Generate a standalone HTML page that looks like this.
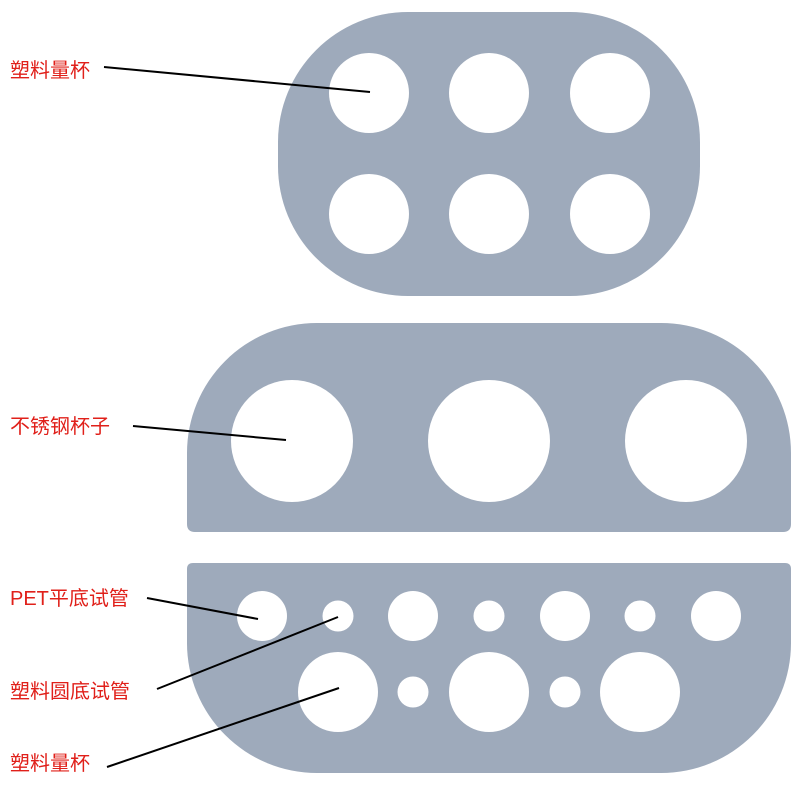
<!DOCTYPE html>
<html><head><meta charset="utf-8"><style>
html,body{margin:0;padding:0;background:#fff;}
body{width:800px;height:800px;position:relative;overflow:hidden;}
svg{position:absolute;left:0;top:0;}
text{font-family:"Liberation Sans","Noto Sans CJK SC",sans-serif;font-size:20px;fill:#e0201a;}
</style></head><body>
<svg width="800" height="800" viewBox="0 0 800 800">
<g fill="#9eaabb">
<rect x="278" y="12" width="422" height="284" rx="130" ry="130"/>
<path d="M187,532 L187,453 A130,130 0 0 1 317,323 L661,323 A130,130 0 0 1 791,453 L791,524 Q791,532 783,532 L195,532 Q187,532 187,524 Z"/>
<path d="M193,563 L785,563 Q791,563 791,569 L791,643 A130,130 0 0 1 661,773 L317,773 A130,130 0 0 1 187,643 L187,569 Q187,563 193,563 Z"/>
</g>
<g fill="#fff">
<circle cx="369" cy="93" r="40"/><circle cx="489" cy="93" r="40"/><circle cx="610" cy="93" r="40"/>
<circle cx="369" cy="214" r="40"/><circle cx="489" cy="214" r="40"/><circle cx="610" cy="214" r="40"/>
<circle cx="292" cy="441" r="61"/><circle cx="489" cy="441" r="61"/><circle cx="686" cy="441" r="61"/>
<circle cx="262" cy="616" r="25"/><circle cx="338" cy="616" r="15.5"/><circle cx="413" cy="616" r="25"/><circle cx="489" cy="616" r="15.5"/><circle cx="565" cy="616" r="25"/><circle cx="640" cy="616" r="15.5"/><circle cx="716" cy="616" r="25"/>
<circle cx="338" cy="692" r="40"/><circle cx="413" cy="692" r="15.5"/><circle cx="489" cy="692" r="40"/><circle cx="565" cy="692" r="15.5"/><circle cx="640" cy="692" r="40"/>
</g>
<g stroke="#000" stroke-width="2">
<line x1="104" y1="67" x2="370" y2="92"/>
<line x1="133" y1="426" x2="286" y2="440"/>
<line x1="147" y1="598" x2="258" y2="619"/>
<line x1="157" y1="689" x2="338" y2="617"/>
<line x1="107" y1="767" x2="339" y2="688"/>
</g>
<text x="10" y="77">塑料量杯</text>
<text x="10" y="433">不锈钢杯子</text>
<text x="10" y="605">PET平底试管</text>
<text x="10" y="698">塑料圆底试管</text>
<text x="10" y="770">塑料量杯</text>
</svg>
</body></html>
